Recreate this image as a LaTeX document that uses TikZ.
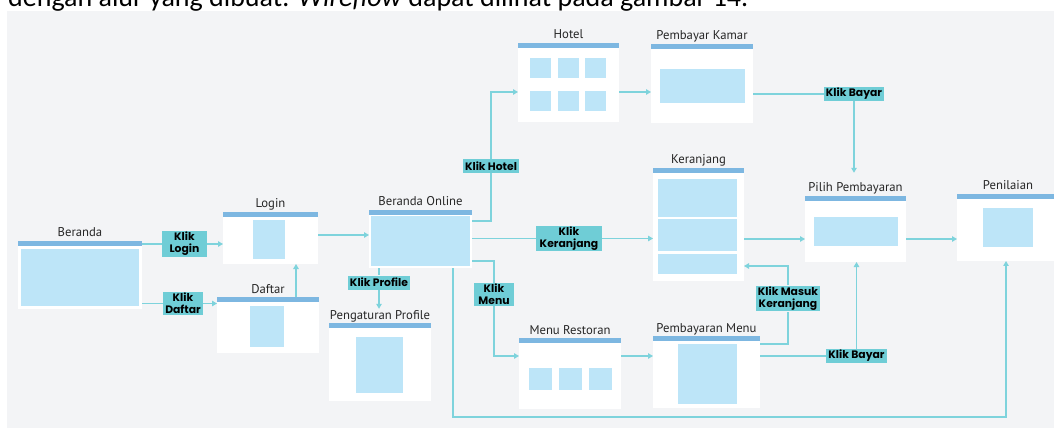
\documentclass[tikz,border=0pt]{standalone}
\usepackage{fontspec}
\setmainfont{PT Sans}
\newfontfamily\tagfont{Poppins}
\newfontfamily\capfont{Carlito}
\usetikzlibrary{arrows.meta}

\definecolor{panelgray}{HTML}{F3F4F6}
\definecolor{barblue}{HTML}{7DB7E1}
\definecolor{paneblue}{HTML}{BDE5F8}
\definecolor{flowteal}{HTML}{7ED3DC}
\definecolor{tagteal}{HTML}{6FCDD6}

\tikzset{
  win/.style={fill=white, inner sep=0pt, outer sep=0pt},
  bar/.style={fill=barblue, inner sep=0pt, outer sep=0pt, minimum height=5pt, anchor=north},
  pane/.style={fill=paneblue, inner sep=0pt, outer sep=0pt},
  title/.style={anchor=base, font=\fontsize{12.7}{14}\selectfont, text=black!85, inner sep=1pt},
  tag/.style={fill=tagteal, font=\tagfont\bfseries\fontsize{10.8}{12}\selectfont, align=center, inner xsep=2pt, inner ysep=1pt, minimum height=14pt},
  flow/.style={draw=flowteal, line width=1.1pt},
  flowto/.style={flow, -{Triangle[length=5pt,width=5.5pt]}},
}

\begin{document}
\begin{tikzpicture}[x=1pt, y=-1pt]
  \clip (0,0) rectangle (1054,430);
  \fill[panelgray] (7,11) rectangle (1060,428);
  \node[anchor=base west, inner sep=0pt, font=\capfont\fontsize{28}{30}\selectfont] (cap) at (8,6.5)
    {dengan alur yang dibuat: \textit{Wireflow} dapat dilihat pada gambar 14.};

  % windows
  \node[win, minimum width=124pt, minimum height=68pt] (ber) at (80,275) {};
  \node[win, minimum width=95pt, minimum height=52pt] (login) at (270.5,238) {};
  \node[win, minimum width=102pt, minimum height=56pt] (daftar) at (268,325) {};
  \node[win, minimum width=103pt, minimum height=58pt] (bo) at (420.5,239) {};
  \node[win, minimum width=102pt, minimum height=78pt] (prof) at (380,362) {};
  \node[win, minimum width=101pt, minimum height=79pt] (hotel) at (568.5,82.5) {};
  \node[win, minimum width=102pt, minimum height=79pt] (pk) at (702,83.5) {};
  \node[win, minimum width=91pt, minimum height=113pt] (ker) at (698.5,224.5) {};
  \node[win, minimum width=101pt, minimum height=66pt] (pil) at (855.5,229) {};
  \node[win, minimum width=102pt, minimum height=67pt] (pen) at (1008,227.5) {};
  \node[win, minimum width=102pt, minimum height=71pt] (menu) at (570,373.5) {};
  \node[win, minimum width=107pt, minimum height=72pt] (pm) at (706.5,372) {};

  % header bars
  \node[bar, minimum width=124pt] at (ber.north) {};
  \node[bar, minimum width=95pt] at (login.north) {};
  \node[bar, minimum width=102pt] at (daftar.north) {};
  \node[bar, minimum width=103pt] at (bo.north) {};
  \node[bar, minimum width=102pt] at (prof.north) {};
  \node[bar, minimum width=101pt] at (hotel.north) {};
  \node[bar, minimum width=102pt] at (pk.north) {};
  \node[bar, minimum width=91pt] at (ker.north) {};
  \node[bar, minimum width=101pt] at (pil.north) {};
  \node[bar, minimum width=102pt] at (pen.north) {};
  \node[bar, minimum width=102pt] at (menu.north) {};
  \node[bar, minimum width=107pt] at (pm.north) {};

  % titles
  \node[title] (bert) at ([yshift=4pt]ber.north) {Beranda};
  \node[title] (logint) at ([yshift=4pt]login.north) {Login};
  \node[title] (daftart) at ([yshift=4pt]daftar.north) {Daftar};
  \node[title] (bot) at ([yshift=4pt]bo.north) {Beranda Online};
  \node[title] (proft) at ([yshift=4pt]prof.north) {Pengaturan Profile};
  \node[title] (hotelt) at ([yshift=4pt]hotel.north) {Hotel};
  \node[title] (pkt) at ([yshift=4pt]pk.north) {Pembayar Kamar};
  \node[title] (kert) at ([yshift=4pt]ker.north) {Keranjang};
  \node[title] (pilt) at ([yshift=4pt]pil.north) {Pilih Pembayaran};
  \node[title] (pent) at ([yshift=4pt]pen.north) {Penilaian};
  \node[title] (menut) at ([yshift=4pt]menu.north) {Menu Restoran};
  \node[title] (pmt) at ([yshift=4pt]pm.north) {Pembayaran Menu};

  % content panes
  \node[pane, minimum width=118pt, minimum height=57pt] at (80,277.5) {};
  \node[pane, minimum width=32pt, minimum height=39pt] at (269,239.5) {};
  \node[pane, minimum width=34pt, minimum height=41pt] at (267,326.5) {};
  \node[pane, minimum width=99pt, minimum height=50pt] at (420.5,241) {};
  \node[pane, minimum width=47pt, minimum height=56pt] at (379.5,365) {};
  \foreach \px in {540.5,568.5,595}
    \foreach \py in {68,101}
      \node[pane, minimum width=21pt, minimum height=20pt] at (\px,\py) {};
  \node[pane, minimum width=85pt, minimum height=34pt] at (702.5,86) {};
  \node[pane, minimum width=79pt, minimum height=38pt] at (697.5,198) {};
  \node[pane, minimum width=79pt, minimum height=32pt] at (697.5,235) {};
  \node[pane, minimum width=79pt, minimum height=20pt] at (697.5,264) {};
  \node[pane, minimum width=84pt, minimum height=29pt] at (856,231.5) {};
  \node[pane, minimum width=50pt, minimum height=39pt] at (1008,227.5) {};
  \foreach \px in {540,570.5,600.5}
    \node[pane, minimum width=23pt, minimum height=22pt] at (\px,379) {};
  \node[pane, minimum width=59pt, minimum height=60pt] at (707.5,374) {};

  % labels
  \node[tag, minimum width=45pt] (klogin) at (184.5,244) {Klik\\Login};
  \node[tag, minimum width=40pt] (kdaftar) at (183,303.5) {Klik\\Daftar};
  \node[tag, minimum width=56pt] (kprof) at (379,282.5) {Klik Profile};
  \node[tag, minimum width=53pt] (khotel) at (491,166) {Klik Hotel};
  \node[tag, minimum width=66pt] (kker) at (569,238.5) {Klik\\Keranjang};
  \node[tag, minimum width=40pt] (kmenu) at (494,294.5) {Klik\\Menu};
  \node[tag, minimum width=56pt] (kbayar1) at (854,94) {Klik Bayar};
  \node[tag, minimum width=62pt] (kmasuk) at (788,298.5) {Klik Masuk\\Keranjang};
  \node[tag, minimum width=57pt] (kbayar2) at (856.5,356) {Klik Bayar};

  % connectors
  \draw[flowto] (ber.east |- klogin) -- (klogin) -- (klogin -| login.west);
  \draw[flowto] (ber.east |- kdaftar) -- (kdaftar) -- (kdaftar -| daftar.west);
  \draw[flowto] ([xshift=28pt]daftar.north) -- ([xshift=28pt]daftar.north |- login.south);
  \draw[flowto] ([yshift=3pt]login.east) -- ([yshift=3pt]login.east -| bo.west);

  \draw[flowto] ([yshift=18pt]bo.east) -| (khotel) |- ([yshift=-9.5pt]hotel.west);
  \draw[flowto] (bo.east |- kker) -- (kker) -- (kker -| ker.west);
  \draw[flowto] ([yshift=-22pt]bo.east) -| (kmenu) |- ([yshift=17.5pt]menu.west);
  \draw[flowto] (bo.south -| kprof) -- (kprof) -- (kprof |- proft.north);
  \draw[flowto] ([xshift=32.5pt]bo.south) -- ++(0,149) -| ([xshift=-2pt]pen.south);

  \draw[flowto] ([yshift=-9.5pt]hotel.east) -- ([yshift=-9.5pt]hotel.east -| pk.west);
  \draw[flowto] (pk.east |- kbayar1) -- (kbayar1) -- ([yshift=9pt]kbayar1 |- pilt.north);
  \draw[flowto] ([yshift=-14.5pt]ker.east) -- ([yshift=-14.5pt]ker.east -| pil.west);
  \draw[flowto] ([yshift=-10pt]pil.east) -- ([yshift=-10pt]pil.east -| pen.west);
  \draw[flowto] ([yshift=17.5pt]menu.east) -- ([yshift=17.5pt]menu.east -| pm.west);
  \draw[flowto] ([yshift=28pt]pm.east) -| (kmasuk) |- ([yshift=-41.5pt]ker.east);
  \draw[flowto] ([yshift=16pt]pm.east) -- (kbayar2) -- (kbayar2 |- pil.south);
\end{tikzpicture}
\end{document}
